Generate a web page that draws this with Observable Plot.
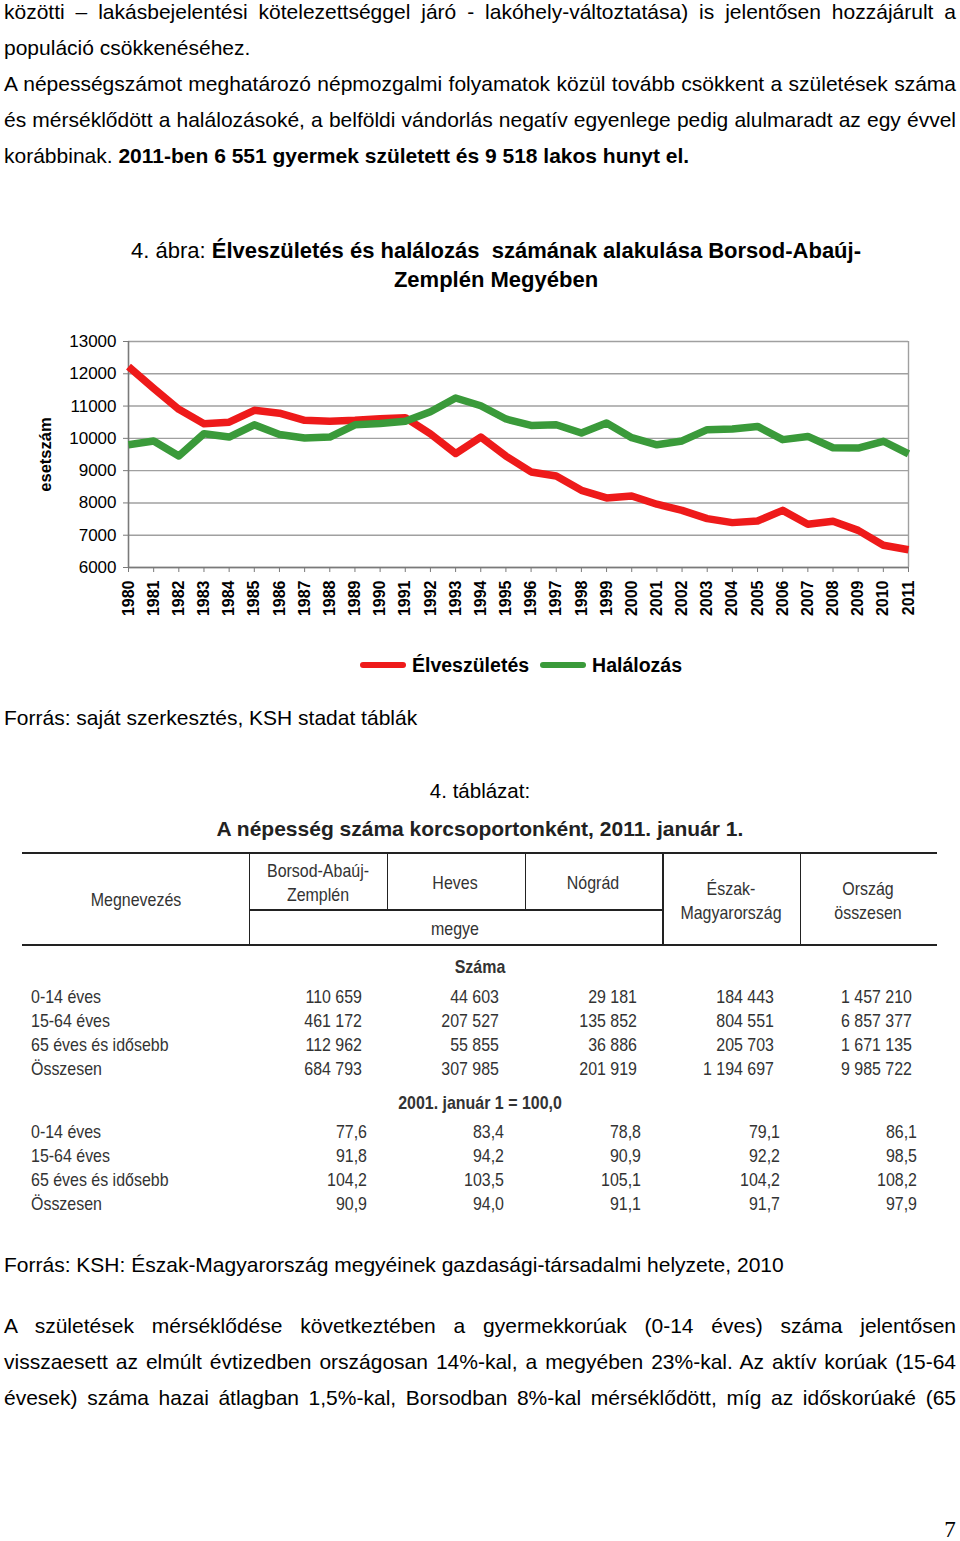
<!DOCTYPE html>
<html>
<head>
<meta charset="utf-8">
<script src="https://cdn.jsdelivr.net/npm/d3@7"></script>
<script src="https://cdn.jsdelivr.net/npm/@observablehq/plot@0.6"></script>
<style>
  html, body { margin: 0; padding: 0; background: #fff; }
  body { width: 960px; height: 1541px; position: relative; overflow: hidden; font-family: "Liberation Sans", Arial, sans-serif; color: #000; }
  .ab { position: absolute; white-space: nowrap; }
  .just { text-align: justify; text-align-last: justify; }
  .body { font-size: 21px; line-height: 36px; left: 4px; width: 952px; }
  .tbl { font-family: "Liberation Sans Narrow", "Arial Narrow", "Liberation Sans", sans-serif; font-size: 19px; color: #333; line-height: 24px; }
  .hl { position: absolute; background: #222; }
  .vl { position: absolute; background: #222; width: 1.5px; }
</style>
</head>
<body>
<div id="page"></div>
<script>
// ---- chart data ----
const years = [1980,1981,1982,1983,1984,1985,1986,1987,1988,1989,1990,1991,1992,1993,1994,1995,1996,1997,1998,1999,2000,2001,2002,2003,2004,2005,2006,2007,2008,2009,2010,2011];
const births = [12220,11550,10900,10450,10500,10870,10780,10560,10530,10560,10610,10640,10140,9530,10040,9450,8960,8835,8390,8155,8215,7960,7770,7515,7390,7440,7770,7340,7430,7150,6690,6551];
const deaths = [9800,9920,9455,10145,10040,10420,10120,10010,10040,10420,10460,10530,10825,11250,11010,10600,10400,10420,10165,10475,10020,9800,9920,10270,10290,10370,9960,10060,9710,9700,9910,9518];
const seriesNames = ["Élveszületés", "Halálozás"];
const seriesColors = ["#ee1a1a", "#3a9a3a"];
const yTicks = [6000,7000,8000,9000,10000,11000,12000,13000];

// ---- table data ----
const rowLabels = ["0-14 éves", "15-64 éves", "65 éves és idősebb", "Összesen"];
const countRows = [
  ["110 659","44 603","29 181","184 443","1 457 210"],
  ["461 172","207 527","135 852","804 551","6 857 377"],
  ["112 962","55 855","36 886","205 703","1 671 135"],
  ["684 793","307 985","201 919","1 194 697","9 985 722"]
];
const indexRows = [
  ["77,6","83,4","78,8","79,1","86,1"],
  ["91,8","94,2","90,9","92,2","98,5"],
  ["104,2","103,5","105,1","104,2","108,2"],
  ["90,9","94,0","91,1","91,7","97,9"]
];

const page = document.getElementById("page");
function add(html, cls, style) {
  const d = document.createElement("div");
  d.className = "ab " + (cls || "");
  d.innerHTML = html;
  Object.assign(d.style, style || {});
  page.appendChild(d);
  return d;
}

// ---- top text ----
const topLines = [
  ["közötti – lakásbejelentési kötelezettséggel járó - lakóhely-változtatása) is jelentősen hozzájárult a", true],
  ["populáció csökkenéséhez.", false],
  ["A népességszámot meghatározó népmozgalmi folyamatok közül tovább csökkent a születések száma", true],
  ["és mérséklődött a halálozásoké, a belföldi vándorlás negatív egyenlege pedig alulmaradt az egy évvel", true],
  ["korábbinak. <b>2011-ben 6 551 gyermek született és 9 518 lakos hunyt el.</b>", false]
];
topLines.forEach(([t, j], i) => add(t, "body" + (j ? " just" : ""), {top: (-6 + i * 36) + "px"}));

// ---- chart title ----
add("4. ábra: <b>Élveszületés és halálozás&nbsp; számának alakulása Borsod-Abaúj-</b><br><b>Zemplén Megyében</b>", "", {
  left: "96px", width: "800px", top: "236px", textAlign: "center", fontSize: "22px", lineHeight: "29px"
});

// ---- chart ----
const data = years.flatMap((y, i) => [
  {year: y, value: births[i], series: seriesNames[0]},
  {year: y, value: deaths[i], series: seriesNames[1]}
]);
const chart = Plot.plot({
  width: 960,
  height: 310,
  marginTop: 21,
  marginBottom: 63,
  marginLeft: 128,
  marginRight: 52,
  style: {fontFamily: "Liberation Sans, Arial, sans-serif", background: "transparent", overflow: "visible", color: "#000"},
  x: {type: "linear", domain: [years[0], years[years.length - 1]]},
  y: {domain: [yTicks[0], yTicks[yTicks.length - 1]]},
  color: {domain: seriesNames, range: seriesColors},
  marks: [
    Plot.ruleY(yTicks, {stroke: "#a0a0a0", strokeWidth: 1.4}),
    Plot.ruleX([years[years.length - 1]], {stroke: "#a0a0a0", strokeWidth: 1.4}),
    Plot.ruleX([years[0]], {stroke: "#7a7a7a", strokeWidth: 1.6}),
    Plot.ruleY([yTicks[0]], {stroke: "#7a7a7a", strokeWidth: 1.6}),
    Plot.axisY({ticks: yTicks, tickSize: 5, tickPadding: 7, fontSize: 17, stroke: "#7a7a7a", fill: "#000", tickFormat: d => String(d), label: null}),
    Plot.axisX({ticks: years, tickSize: 5, tickPadding: 8, tickRotate: -90, fontSize: 16, fontWeight: "bold", stroke: "#7a7a7a", fill: "#000", tickFormat: d => String(d), label: null}),
    Plot.text(["esetszám"], {frameAnchor: "left", rotate: -90, dx: -83, fontSize: 16.5, fontWeight: "bold", textAnchor: "middle", lineAnchor: "middle", fill: "#000"}),
    Plot.line(data, {x: "year", y: "value", stroke: "series", strokeWidth: 7.5, strokeLinejoin: "round", strokeLinecap: "butt"})
  ]
});
const holder = add("", "", {left: "0px", top: "320px"});
holder.appendChild(chart);

// ---- legend ----
const leg = add("", "", {left: "360px", top: "652px", fontSize: "19.5px", fontWeight: "bold", lineHeight: "26px", display: "flex", alignItems: "center"});
seriesNames.forEach((n, i) => {
  const sw = document.createElement("span");
  Object.assign(sw.style, {display: "inline-block", width: "46px", height: "6px", borderRadius: "3px", background: seriesColors[i], marginRight: "6px", marginLeft: i ? "11px" : "0px"});
  const tx = document.createElement("span");
  tx.textContent = n;
  leg.appendChild(sw); leg.appendChild(tx);
});

// ---- sources / table title ----
add("Forrás: saját szerkesztés, KSH stadat táblák", "", {left: "4px", top: "700px", fontSize: "21px", lineHeight: "36px"});
add("4. táblázat:", "", {left: "380px", width: "200px", textAlign: "center", top: "773px", fontSize: "20.5px", lineHeight: "36px"});
add("A népesség száma korcsoportonként, 2011. január 1.", "", {left: "130px", width: "700px", textAlign: "center", top: "815px", fontSize: "21px", lineHeight: "28px", fontWeight: "bold", color: "#222"});

// ---- table lines ----
function hline(x1, x2, y, h) { const d = document.createElement("div"); d.className = "hl"; Object.assign(d.style, {left: x1 + "px", width: (x2 - x1) + "px", top: y + "px", height: (h || 1.5) + "px"}); page.appendChild(d); }
function vline(x, y1, y2) { const d = document.createElement("div"); d.className = "vl"; Object.assign(d.style, {left: x + "px", top: y1 + "px", height: (y2 - y1) + "px"}); page.appendChild(d); }
hline(22, 937, 852, 2);
hline(249, 663, 909, 2);
hline(22, 937, 944, 2);
vline(248.5, 853, 945);
vline(386.5, 853, 910);
vline(524.5, 853, 910);
vline(662, 853, 945);
vline(799.5, 853, 945);

const SX = "scaleX(0.84)";
// ---- table headers ----
function th(html, cx, cy, w) {
  const n = html.split("<br>").length;
  add(html, "tbl", {left: (cx - w / 2) + "px", width: w + "px", textAlign: "center", top: (cy - 12 * n) + "px", transform: SX, transformOrigin: "center"});
}
th("Megnevezés", 136, 900, 200);
th("Borsod-Abaúj-<br>Zemplén", 318, 883, 150);
th("Heves", 455, 883, 130);
th("Nógrád", 593, 883, 130);
th("Észak-<br>Magyarország", 731, 900.5, 150);
th("Ország<br>összesen", 868, 900.5, 150);
th("megye", 455, 929, 130);
th("<b>Száma</b>", 480, 967, 200);
th("<b>2001. január 1 = 100,0</b>", 480, 1103, 300);

const rightsA = [362, 499, 637, 774, 912];
const rightsB = [367, 504, 641, 780, 917];
function rows(vals, y0, rights) {
  vals.forEach((r, i) => {
    const y = y0 + i * 24;
    add(rowLabels[i], "tbl", {left: "31px", top: (y - 12) + "px", transform: SX, transformOrigin: "left center"});
    r.forEach((v, j) => add(v, "tbl", {left: (rights[j] - 150) + "px", width: "150px", textAlign: "right", top: (y - 12) + "px", transform: SX, transformOrigin: "right center"}));
  });
}
rows(countRows, 997, rightsA);
rows(indexRows, 1132, rightsB);

// ---- bottom text ----
add("Forrás: KSH: Észak-Magyarország megyéinek gazdasági-társadalmi helyzete, 2010", "", {left: "4px", top: "1247px", fontSize: "21px", lineHeight: "36px"});
const botLines = [
  "A születések mérséklődése következtében a gyermekkorúak (0-14 éves) száma jelentősen",
  "visszaesett az elmúlt évtizedben országosan 14%-kal, a megyében 23%-kal. Az aktív korúak (15-64",
  "évesek) száma hazai átlagban 1,5%-kal, Borsodban 8%-kal mérséklődött, míg az időskorúaké (65"
];
botLines.forEach((t, i) => add(t, "body just", {top: (1308 + i * 36) + "px"}));

add("7", "", {left: "930px", width: "40px", textAlign: "center", top: "1514px", fontSize: "23px", lineHeight: "32px", fontFamily: "'Liberation Serif', 'DejaVu Serif', serif"});
</script>
</body>
</html>
